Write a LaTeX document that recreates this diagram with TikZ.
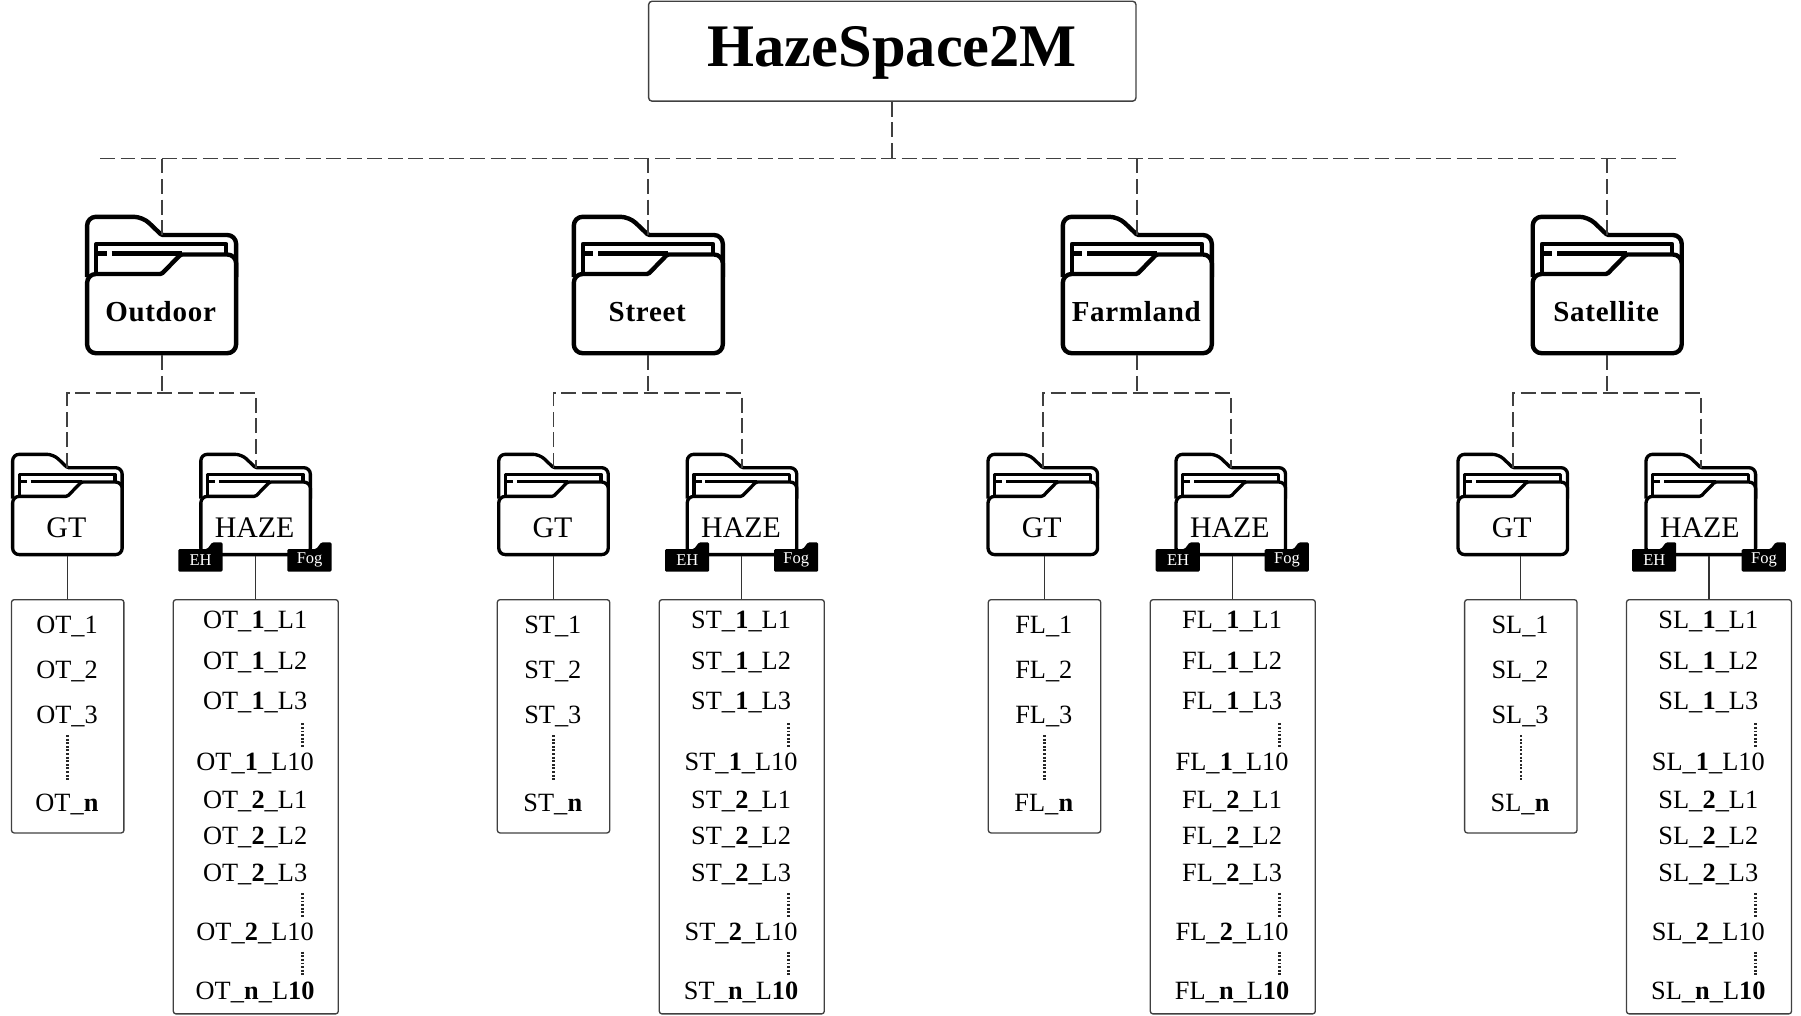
\documentclass[tikz,border=0pt]{standalone}
\usepackage{fontspec}
\setmainfont{Liberation Serif}
\newfontfamily\spacedfont[LetterSpace=2.5]{Liberation Serif}
\usetikzlibrary{calc}
\tikzset{
    rootbox/.style={draw=black!75,line width=.8pt,rounded corners=2pt,minimum width=9.75cm,minimum height=2cm,inner sep=0pt,
        text height=27.8pt,text depth=10pt,font=\fontsize{34.4}{40}\selectfont\bfseries},
    dashline/.style={draw=black!75,line width=1.05pt,dash pattern=on 8.5pt off 3.2pt},
    listbox/.style={draw=black!75,line width=.75pt,rounded corners=1.5pt,anchor=north,inner sep=0pt},
    stem/.style={draw=black!80,line width=.75pt},
    item/.style={anchor=base,inner sep=0pt,xshift=-.014cm,font=\fontsize{15}{18}\selectfont},
    mainlabel/.style={anchor=base,inner sep=0pt,xshift=-.02cm,font=\fontsize{16.5}{20}\spacedfont\bfseries},
    sublabel/.style={anchor=base,inner sep=0pt,xshift=-.02cm,font=\fontsize{17}{20}\selectfont},
    taglabel/.style={anchor=base,inner sep=0pt,text=white,font=\fontsize{9.4}{11}\selectfont},
    vdots/.style={line width=1.4pt,draw=black!85,dash pattern=on 1.1pt off .95pt}
}
\newcommand\folder[8]{
    \begin{scope}[shift={(#2,#3)},scale=#4,line width=#5,line join=round]
        \draw[rounded corners=#4*5pt] (-74.5,62) -- (-74.5,1.8) -- (-19,1.8) [rounded corners=.8pt] -- (0,20) [rounded corners=#4*5pt] -- (74.5,20) -- (74.5,62);
        \draw (-65.3,62) -- (-65.3,29) -- (64.7,29) -- (64.7,42);
        \draw (-65.3,38.5) -- (-55,38.5) (-50,38.5) -- (20,38.5);
        \draw[fill=white,rounded corners=#4*5pt] (-74.5,100) -- (-74.5,59) [rounded corners=.8pt] -- (0,59) -- (19,39.5) [rounded corners=#4*5pt] -- (74.5,39.5) -- (74.5,138.2) -- (-74.5,138.2) -- cycle;
    \end{scope}
    \node(#1)[inner sep=0pt,minimum width=#4*3.06cm,minimum height=#4*2.8cm] at (#2,{#3+#4*70}) {};
    \coordinate(#1-tab) at (#2,{#3+#4*20});
    \node(#1-label)[#7] at (#2,#8) {#6};
}
\newcommand\fogtag[4]{
    \fill[rounded corners=.8pt] (#2,549) -- ++(29,0) -- ++(5,-6.7) -- ++(10.2,0) -- ++(0,29.4) -- ++(-44.2,0) -- cycle;
    \node(#1)[taglabel] at ({#2+22.3},#4) {#3};
}
\begin{document}
\begin{tikzpicture}[x=0.02cm,y=-0.02cm]
    \useasboundingbox (0,0) rectangle (1801,1015);
    \node(root)[rootbox] at (892.3,51.2) {HazeSpace2M};
    \coordinate(busleft) at (100,158.5);
    \coordinate(busright) at (1676,158.5);
    \draw[dashline] (busleft) -- (busright);
    \draw[dashline] (root.south) -- (root.south |- busleft);
    \foreach \pre/\ttl/\mainx/\gtx/\hzx/\gtl/\hzl/\ehx/\fogx in {
        OT/Outdoor/161.6/67.4/255.6/67.7/255.8/178.3/287.3,
        ST/Street/648.3/553.5/742/553.5/741.8/665/774,
        FL/Farmland/1137.3/1042.8/1230.8/1044.5/1232.8/1155.7/1264.7,
        SL/Satellite/1607.2/1512.8/1700.8/1520.8/1709/1632/1741.7} {
        \folder{\pre-main}{\mainx}{215}{1}{2.5pt}{\ttl}{mainlabel}{321.7}
        \folder{\pre-gt}{\gtx}{453}{.735}{1.9pt}{GT}{sublabel}{537.7}
        \folder{\pre-hz}{\hzx}{453}{.735}{1.9pt}{HAZE}{sublabel}{537.7}
        \fogtag{\pre-eh}{\ehx}{EH}{565.7}
        \fogtag{\pre-fog}{\fogx}{Fog}{563.3}
        \coordinate(\pre-hub) at (\mainx,158.5);
        \coordinate(\pre-sub) at (\mainx,393.3);
        \draw[dashline] (\pre-hub) -- (\pre-main-tab);
        \draw[dashline] (\pre-main.south) -- (\pre-sub);
        \draw[dashline] (\pre-gt-tab) -- (\pre-gt-tab |- \pre-sub) -- (\pre-hz-tab |- \pre-sub) -- (\pre-hz-tab);
        \node(\pre-gtlist)[listbox,minimum width=2.248cm,minimum height=4.666cm] at (\gtl,599) {};
        \node(\pre-hzlist)[listbox,minimum width=3.3cm,minimum height=8.286cm] at (\hzl,599) {};
        \draw[stem] (\pre-gtlist.north) -- (\pre-gtlist.north |- \pre-gt.south);
        \draw[stem] (\pre-hzlist.north) -- (\pre-hzlist.north |- \pre-hz.south);
        \foreach \y/\t [count=\i] in {633.7/1,678.5/2,723.5/3,811/\textbf{n}}
            \node(\pre-gtitem\i)[item] at (\gtl,\y) {\pre\_\t};
        \foreach \y/\t [count=\i] in {628/\textbf{1}\_L1,669/\textbf{1}\_L2,709/\textbf{1}\_L3,770/\textbf{1}\_L10,
            808.3/\textbf{2}\_L1,844.3/\textbf{2}\_L2,881/\textbf{2}\_L3,940/\textbf{2}\_L10,999/\textbf{n}\_L\textbf{10}}
            \node(\pre-hzitem\i)[item] at (\hzl,\y) {\pre\_\t};
        \draw[vdots] (\gtl,735) -- (\gtl,781.7);
        \draw[vdots] ({\hzl+46.5},723.3) -- ({\hzl+46.5},747.7);
        \draw[vdots] ({\hzl+46.5},893.3) -- ({\hzl+46.5},917.7);
        \draw[vdots] ({\hzl+46.5},951.7) -- ({\hzl+46.5},975.7);
    }
\end{tikzpicture}
\end{document}
